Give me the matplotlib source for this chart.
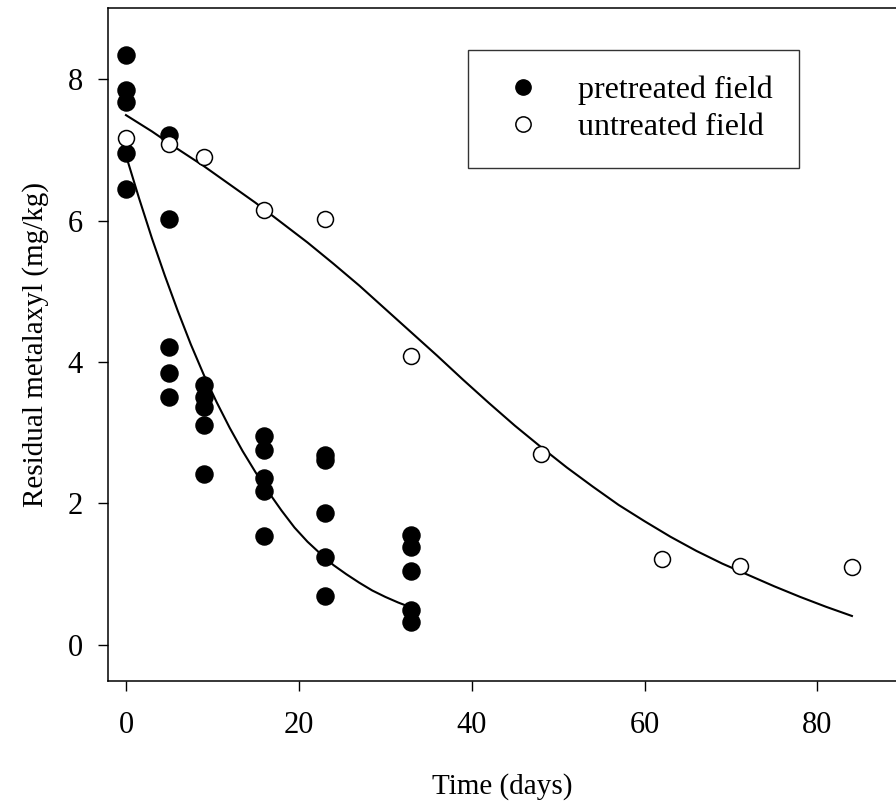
import numpy as np
import matplotlib
matplotlib.use("Agg")
import matplotlib.pyplot as plt

# measured residues (mg/kg) by sampling day
pre_days = [0, 0, 0, 0, 0,
            5, 5, 5, 5, 5,
            9, 9, 9, 9, 9,
            16, 16, 16, 16, 16,
            23, 23, 23, 23, 23,
            33, 33, 33, 33, 33]
pre_vals = [8.34, 7.85, 7.67, 6.95, 6.45,
            7.21, 6.02, 4.21, 3.84, 3.50,
            3.68, 3.51, 3.37, 3.11, 2.42,
            2.96, 2.75, 2.36, 2.17, 1.54,
            2.68, 2.62, 1.86, 1.24, 0.69,
            1.56, 1.38, 1.04, 0.50, 0.32]

un_days = [0, 5, 9, 16, 23, 33, 48, 62, 71, 84]
un_vals = [7.16, 7.08, 6.90, 6.15, 6.02, 4.09, 2.70, 1.22, 1.11, 1.10]

# fitted curves
pre_fit_days = [0, 1.5, 3, 4.5, 6, 7.5, 9, 10.5, 12, 13.5, 15, 16.5,
                18, 19.5, 21, 22.5, 24, 25.5, 27, 28.5, 30, 31.5, 33]
pre_fit_vals = [6.92, 6.32, 5.75, 5.22, 4.72, 4.25, 3.82, 3.43, 3.07, 2.74,
                2.44, 2.16, 1.90, 1.66, 1.46, 1.29, 1.13, 1.00, 0.88, 0.77,
                0.68, 0.60, 0.53]

un_fit_days = [0, 3, 6, 9, 12, 15, 18, 21, 24, 27, 30, 33, 36, 39, 42,
               45, 48, 51, 54, 57, 60, 63, 66, 69, 72, 75, 78, 81, 84]
un_fit_vals = [7.49, 7.26, 7.01, 6.77, 6.51, 6.25, 5.97, 5.69, 5.39, 5.08,
               4.75, 4.42, 4.09, 3.75, 3.42, 3.10, 2.80, 2.51, 2.24, 1.98,
               1.75, 1.53, 1.33, 1.15, 0.99, 0.83, 0.68, 0.54, 0.41]

xticks = [0, 20, 40, 60, 80]
yticks = [0, 2, 4, 6, 8]

plt.rcParams['font.family'] = ['Liberation Serif', 'DejaVu Serif']

W, H = 896, 807
fig = plt.figure(figsize=(W / 100, H / 100), dpi=100)
ax = fig.add_axes([108 / W, (H - 680.7) / H, (W - 108) / W, (680.7 - 8.3) / H])

ax.plot(pre_fit_days, pre_fit_vals, color='black', lw=1.5, zorder=2)
ax.plot(un_fit_days, un_fit_vals, color='black', lw=1.5, zorder=2)

ax.plot(pre_days, pre_vals, 'o', ms=12.3, mfc='black', mec='black',
        label='pretreated field', zorder=3)
ax.plot(un_days, un_vals, 'o', ms=11.5, mfc='white', mec='black', mew=1.1,
        label='untreated field', zorder=3)

ax.set_xlim(-2.08, 89.1)
ax.set_ylim(-0.505, 9.0)
ax.set_xticks(xticks)
ax.set_yticks(yticks)

ax.spines['right'].set_visible(False)
for s in ['left', 'bottom', 'top']:
    ax.spines[s].set_linewidth(1.1)

ax.tick_params(axis='both', direction='out', length=7.2, width=1.0, labelsize=22)
ax.tick_params(axis='x', pad=14.5)
ax.tick_params(axis='y', pad=11)

ax.set_xlabel('Time (days)', fontsize=21, labelpad=24)
ax.set_ylabel('Residual metalaxyl (mg/kg)', fontsize=21, labelpad=13)

leg = ax.legend(loc='upper left', bbox_to_anchor=(468 / W, 1 - 50 / H),
                bbox_transform=fig.transFigure, borderaxespad=0,
                fontsize=23, frameon=True, fancybox=False, edgecolor='black',
                borderpad=0.8, handlelength=1.84, handletextpad=0.81,
                labelspacing=0.25, numpoints=1)
leg.get_frame().set_linewidth(1.0)
for h in leg.legend_handles:
    h.set_markersize(11)

fig.savefig('out.png', dpi=100)
